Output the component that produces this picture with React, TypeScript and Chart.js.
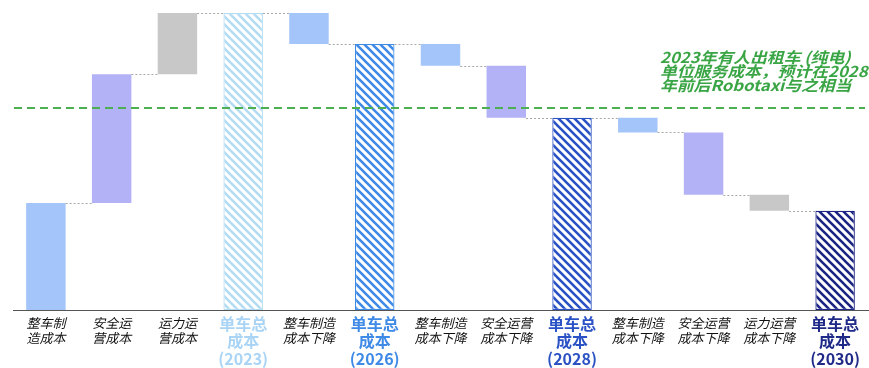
import React, { useEffect, useRef } from "react";
import { Chart, registerables } from "chart.js";

Chart.register(...registerables);

const categories: string[][] = [
  ["整车制", "造成本"],
  ["安全运", "营成本"],
  ["运力运", "营成本"],
  ["单车总", "成本", "(2023)"],
  ["整车制造", "成本下降"],
  ["单车总", "成本", "(2026)"],
  ["整车制造", "成本下降"],
  ["安全运营", "成本下降"],
  ["单车总", "成本", "(2028)"],
  ["整车制造", "成本下降"],
  ["安全运营", "成本下降"],
  ["运力运营", "成本下降"],
  ["单车总", "成本", "(2030)"],
];

// step changes; null = total bar (cumulative)
const steps: (number | null)[] = [36.0, 43.4, 20.6, null, -10.4, null, -7.4, -17.5, null, -4.9, -21.0, -5.4, null];
const kinds: string[] = ["mfg", "safe", "cap", "t2023", "mfg", "t2026", "mfg", "safe", "t2028", "mfg", "safe", "cap", "t2030"];
const benchmark = 68;
const noteLines = ["2023年有人出租车 (纯电)", "单位服务成本，预计在2028", "年前后Robotaxi与之相当"];

const plainColors: Record<string, string> = { mfg: "#a3c5fa", safe: "#b3b2f6", cap: "#c8c8c8" };
const totalColors: Record<string, string> = { t2023: "#b3dcf3", t2026: "#3f8ae6", t2028: "#2a52c4", t2030: "#1c2484" };
const labelColors: Record<string, string> = { t2023: "#a9d4f5", t2026: "#3e8ae6", t2028: "#2a52c4", t2030: "#1f2a88" };

function hatch(color: string): CanvasPattern | string {
  const c = document.createElement("canvas");
  c.width = 8;
  c.height = 8;
  const x = c.getContext("2d");
  if (!x) return color;
  x.fillStyle = "#ffffff";
  x.fillRect(0, 0, 8, 8);
  x.strokeStyle = color;
  x.lineWidth = 2.6;
  x.beginPath();
  x.moveTo(-2, -2);
  x.lineTo(10, 10);
  x.moveTo(-2, 6);
  x.lineTo(2, 10);
  x.moveTo(6, -2);
  x.lineTo(10, 2);
  x.stroke();
  return x.createPattern(c, "repeat") || color;
}

export default function App() {
  const ref = useRef<HTMLCanvasElement | null>(null);
  useEffect(() => {
    if (!ref.current) return;
    const ranges: [number, number][] = [];
    const levels: number[] = [];
    let cum = 0;
    steps.forEach((s) => {
      if (s === null) {
        ranges.push([0, cum]);
      } else {
        ranges.push([cum, cum + s]);
        cum += s;
      }
      levels.push(cum);
    });
    const isTotal = (i: number) => steps[i] === null;
    const bg = kinds.map((k) => (k in totalColors ? hatch(totalColors[k]) : plainColors[k]));
    const border = kinds.map((k) => (k in totalColors ? totalColors[k] : "rgba(0,0,0,0)"));
    const bw = kinds.map((k) => (k in totalColors ? 1.2 : 0));

    const extras = {
      id: "extras",
      afterDatasetsDraw(chart: any) {
        const ctx = chart.ctx;
        const meta = chart.getDatasetMeta(0);
        const ys = chart.scales.y;
        const area = chart.chartArea;
        ctx.save();
        ctx.strokeStyle = "#a8a8a8";
        ctx.lineWidth = 1;
        ctx.setLineDash([2, 2]);
        for (let i = 0; i < meta.data.length - 1; i++) {
          const a = meta.data[i];
          const b = meta.data[i + 1];
          const y = Math.round(ys.getPixelForValue(levels[i])) + 0.5;
          ctx.beginPath();
          ctx.moveTo(a.x + a.width / 2, y);
          ctx.lineTo(b.x - b.width / 2, y);
          ctx.stroke();
        }
        const gy = ys.getPixelForValue(benchmark);
        ctx.strokeStyle = "#4caf50";
        ctx.lineWidth = 2;
        ctx.setLineDash([8, 5]);
        ctx.beginPath();
        ctx.moveTo(area.left + 1, gy);
        ctx.lineTo(area.right - 3, gy);
        ctx.stroke();
        ctx.setLineDash([]);
        ctx.fillStyle = "#3aa545";
        ctx.font = "italic bold 15px 'Noto Sans CJK SC', sans-serif";
        ctx.textAlign = "left";
        ctx.textBaseline = "middle";
        noteLines.forEach((t, i) => {
          ctx.save();
          ctx.translate(660, 57 + i * 14.3);
          ctx.scale(1.12, 1);
          ctx.fillText(t, 0, 0);
          ctx.restore();
        });
        ctx.restore();
      },
    };

    const chart = new Chart(ref.current, {
      type: "bar",
      data: {
        labels: categories as any,
        datasets: [
          {
            data: ranges as any,
            backgroundColor: bg as any,
            borderColor: border,
            borderWidth: bw,
            borderSkipped: false,
            barPercentage: 0.6,
            categoryPercentage: 1,
          },
        ],
      },
      options: {
        responsive: false,
        animation: false,
        layout: { padding: { top: 13, left: 13, right: 1, bottom: 0 } },
        plugins: { legend: { display: false }, tooltip: { enabled: false } },
        scales: {
          x: {
            grid: { display: false, drawTicks: false },
            border: { display: true, color: "#555555", width: 1 },
            ticks: {
              autoSkip: false,
              maxRotation: 0,
              padding: 5,
              color: (c: any) => (isTotal(c.index) ? labelColors[kinds[c.index]] : "#111111"),
              font: (c: any) =>
                isTotal(c.index)
                  ? { family: "'Noto Sans CJK SC', sans-serif", size: 16, weight: "bold", lineHeight: "17.5px" }
                  : { family: "'Noto Sans CJK SC', sans-serif", size: 13, style: "italic", lineHeight: "15.5px" },
            } as any,
            afterFit: (s: any) => {
              s.height = 58;
            },
          },
          y: { display: false, min: 0, max: 100 },
        },
      },
      plugins: [extras],
    });
    return () => chart.destroy();
  }, []);
  return (
    <div style={{ position: "fixed", left: 0, top: 0, width: 869, height: 368, background: "#fff" }}>
      <canvas ref={ref} width={869} height={368} style={{ display: "block" }} />
    </div>
  );
}
